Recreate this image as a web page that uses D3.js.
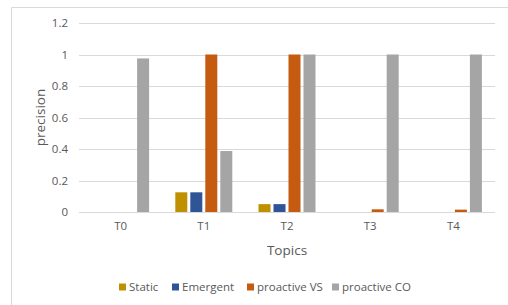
<!DOCTYPE html>
<html><head><meta charset="utf-8">
<script src="https://cdn.jsdelivr.net/npm/d3@7"></script>
<style>body{margin:0;background:#fff}svg{display:block;font-family:"Open Sans","Liberation Sans",sans-serif}</style>
</head><body>
<script>
const categories = ["T0","T1","T2","T3","T4"];
const seriesNames = ["Static","Emergent","proactive VS","proactive CO"];
const staticVals   = [0, 0.125, 0.05, 0, 0];
const emergentVals = [0, 0.125, 0.05, 0, 0];
const vsVals       = [0, 1, 1, 0.017, 0.015];
const coVals       = [0.975, 0.387, 1, 1, 1];
const yTicks = [0, 0.2, 0.4, 0.6, 0.8, 1, 1.2];
const colors = ["#BF9000","#2F5597","#C55A11","#A5A5A5"];
const allVals = [staticVals, emergentVals, vsVals, coVals];

const W = 508, H = 305;
const svg = d3.select("body").append("svg").attr("width", W).attr("height", H);
// chart border
svg.append("path").attr("d", `M11.5,${H}V7.5H${W}`).attr("fill","none").attr("stroke","#D9D9D9");

const plot = {l:79, r:495, t:23, b:212};
const y = d3.scaleLinear().domain([0,1.2]).range([plot.b, plot.t]);
const x0 = d3.scaleBand().domain(categories).range([plot.l, plot.r]);
const x1 = d3.scaleBand().domain(seriesNames).range([0, 60]);

// gridlines
svg.append("g").selectAll("line").data(yTicks).join("line")
  .attr("x1", plot.l).attr("x2", plot.r)
  .attr("y1", d => Math.round(y(d)) + 0.5).attr("y2", d => Math.round(y(d)) + 0.5)
  .attr("stroke", "#D9D9D9").attr("stroke-width", 1);

// y axis labels
const yAxis = d3.axisLeft(y).tickValues(yTicks).tickSize(0).tickPadding(0)
  .tickFormat(d => d3.format("~g")(d));
const ga = svg.append("g").attr("transform", `translate(${plot.l-11},0)`).call(yAxis);
ga.select(".domain").remove();
ga.selectAll("text").attr("fill","#595959").attr("font-size", 11.5).attr("font-family","'Open Sans','Liberation Sans',sans-serif");

// x axis labels
const xAxis = d3.axisBottom(x0).tickSize(0).tickPadding(0);
const gx = svg.append("g").attr("transform", `translate(0,${plot.b+10})`).call(xAxis);
gx.select(".domain").remove();
gx.selectAll("text").attr("fill","#595959").attr("font-size", 11.5).attr("font-family","'Open Sans','Liberation Sans',sans-serif");

// bars
const rows = categories.map((c,i) => ({cat:c, vals: seriesNames.map((s,j)=>({s, v: allVals[j][i], j}))}));
const groups = svg.append("g").selectAll("g").data(rows).join("g")
  .attr("transform", d => `translate(${x0(d.cat) + x0.bandwidth()/2 - 30},0)`);
groups.selectAll("rect").data(d => d.vals.filter(e => e.v > 0)).join("rect")
  .attr("x", d => x1(d.s) + 1.5)
  .attr("width", x1.bandwidth() - 3)
  .attr("y", d => y(d.v))
  .attr("height", d => y(0) - y(d.v))
  .attr("fill", d => colors[d.j]);

// axis line at 0
svg.append("line").attr("x1", plot.l).attr("x2", plot.r)
  .attr("y1", Math.round(y(0))+0.5).attr("y2", Math.round(y(0))+0.5)
  .attr("stroke","#D9D9D9");

// titles
svg.append("text").attr("x", (plot.l+plot.r)/2).attr("y", 255).attr("text-anchor","middle")
  .attr("fill","#595959").attr("font-size", 13.5).text("Topics");
svg.append("text").attr("transform", `translate(45,${(plot.t+plot.b)/2}) rotate(-90)`)
  .attr("text-anchor","middle").attr("fill","#595959").attr("font-size", 13.5).text("precision");

// legend
const legX = [119, 172, 247, 332];
const leg = svg.append("g").selectAll("g").data(seriesNames).join("g")
  .attr("transform", (d,i) => `translate(${legX[i]},287)`);
leg.append("rect").attr("x",0).attr("y",-3.5).attr("width",7).attr("height",7).attr("fill",(d,i)=>colors[i]);
leg.append("text").attr("x",10).attr("y",0).attr("dy","0.35em").attr("fill","#595959")
  .attr("font-size", 11.5).text(d => d);
</script>
</body></html>
